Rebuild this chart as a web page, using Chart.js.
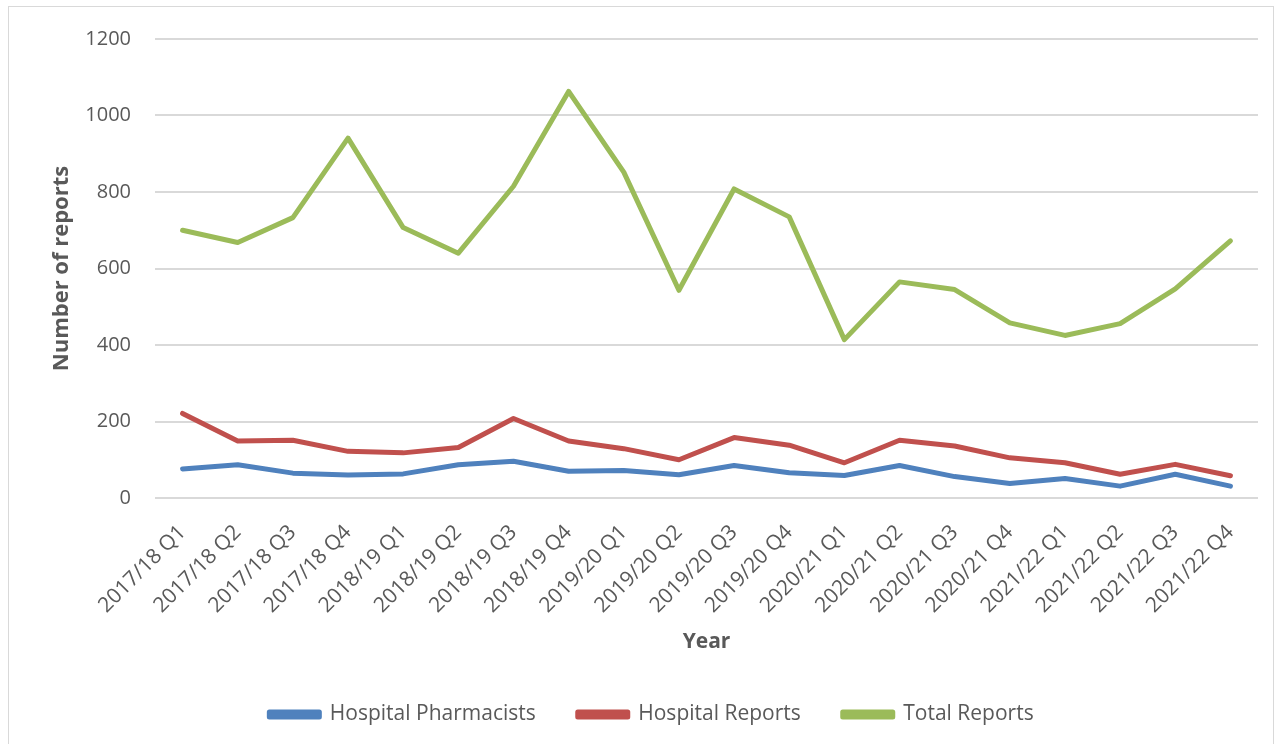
<!DOCTYPE html>
<html>
<head>
<meta charset="utf-8">
<script src="https://cdn.jsdelivr.net/npm/chart.js@4"></script>
<style>
  html, body { margin: 0; padding: 0; background: #fff; }
  #wrap { position: absolute; left: 8px; top: 6px; width: 1266px; height: 740px; border: 1px solid #d9d9d9; box-sizing: border-box; }
  canvas { display: block; }
</style>
</head>
<body>
<div id="wrap"><canvas id="reportsChart"></canvas></div>
<script>
// quarters on the x axis
const quarters = [
    '2017/18 Q1', '2017/18 Q2', '2017/18 Q3', '2017/18 Q4',
    '2018/19 Q1', '2018/19 Q2', '2018/19 Q3', '2018/19 Q4',
    '2019/20 Q1', '2019/20 Q2', '2019/20 Q3', '2019/20 Q4',
    '2020/21 Q1', '2020/21 Q2', '2020/21 Q3', '2020/21 Q4',
    '2021/22 Q1', '2021/22 Q2', '2021/22 Q3', '2021/22 Q4'
];

// values
const hospitalPharmacists = [76, 87, 65, 60, 63, 87, 96, 70, 72, 61, 85, 66, 59, 85, 56, 38, 51, 31, 62, 31];
const hospitalReports = [221, 149, 151, 122, 118, 132, 208, 149, 129, 100, 158, 138, 92, 151, 136, 105, 92, 62, 88, 58];
const totalReports = [700, 668, 733, 941, 707, 640, 815, 1063, 852, 543, 808, 735, 414, 565, 545, 458, 425, 456, 547, 672];

const yTicks = [0, 200, 400, 600, 800, 1000, 1200];

const FONT = "'Open Sans', 'Liberation Sans', sans-serif";
const TEXT_GREY = '#595959';

function makeLine(label, values, color) {
    return {
        label: label,
        data: values,
        borderColor: color,
        backgroundColor: color,
        borderWidth: 5,
        pointRadius: 0,
        pointHoverRadius: 0,
        tension: 0,
        borderJoinStyle: 'round',
        borderCapStyle: 'round',
        fill: false
    };
}

const ctx = document.getElementById('reportsChart').getContext('2d');
new Chart(ctx, {
    type: 'line',
    data: {
        labels: quarters,
        datasets: [
            makeLine('Hospital Pharmacists', hospitalPharmacists, '#4F81BD'),
            makeLine('Hospital Reports', hospitalReports, '#C0504D'),
            makeLine('Total Reports', totalReports, '#9BBB59')
        ]
    },
    options: {
        responsive: true,
        maintainAspectRatio: false,
        animation: false,
        layout: { padding: { top: 32, left: 36, right: 15, bottom: 10 } },
        plugins: {
            tooltip: { enabled: false },
            legend: {
                position: 'bottom',
                labels: {
                    font: { family: FONT, size: 21 },
                    color: TEXT_GREY,
                    boxWidth: 50,
                    boxHeight: 5,
                    padding: 42
                }
            }
        },
        scales: {
            x: {
                offset: true,
                grid: { display: false, drawTicks: false },
                border: { display: false },
                afterFit: scale => {
                    // keep the plot area where the original has it
                    scale.height = 164;
                    scale.paddingLeft = 0;
                    scale.paddingRight = 0;
                },
                ticks: {
                    font: { family: FONT, size: 21 },
                    color: TEXT_GREY,
                    maxRotation: 45,
                    minRotation: 45,
                    autoSkip: false,
                    padding: 22
                },
                title: {
                    display: true,
                    text: 'Year',
                    font: { family: FONT, size: 21, weight: 'bold' },
                    color: TEXT_GREY,
                    padding: { top: 10, bottom: 7 }
                }
            },
            y: {
                min: 0,
                max: 1200,
                afterBuildTicks: axis => { axis.ticks = yTicks.map(v => ({ value: v })); },
                afterFit: scale => {
                    scale.width = 110;
                    scale.paddingTop = 0;
                    scale.paddingBottom = 0;
                },
                grid: { color: '#d9d9d9', lineWidth: 2, drawTicks: false },
                border: { display: false },
                ticks: {
                    font: { family: FONT, size: 20 },
                    color: TEXT_GREY,
                    padding: 24,
                    callback: v => String(v)
                },
                title: {
                    display: true,
                    text: 'Number of reports',
                    font: { family: FONT, size: 22, weight: 'bold' },
                    color: TEXT_GREY,
                    padding: { bottom: 13 }
                }
            }
        }
    }
});
</script>
</body>
</html>
